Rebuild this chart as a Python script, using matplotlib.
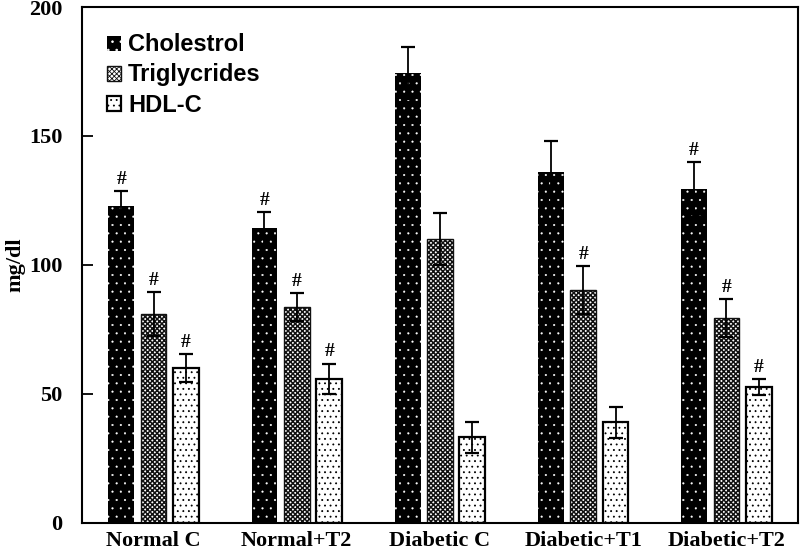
import matplotlib
matplotlib.use("Agg")
import matplotlib.pyplot as plt
import numpy as np

plt.rcParams["hatch.linewidth"] = 0.6

groups = ["Normal C", "Normal+T2", "Diabetic C", "Diabetic+T1", "Diabetic+T2"]
series = ["Cholestrol", "Triglycrides", "HDL-C"]

chol = [123, 114.3, 174.5, 136, 129.3]
chol_err = [5.7, 6.2, 10, 12, 10.7]
trig = [81, 83.7, 110, 90.3, 79.5]
trig_err = [8.5, 5.4, 10, 9.4, 7.3]
hdl = [60, 55.8, 33.2, 39.1, 52.7]
hdl_err = [5.5, 6, 6, 6, 3]

# '#' marks above each bar
chol_sig = [True, True, False, False, True]
trig_sig = [True, True, False, True, True]
hdl_sig = [True, True, False, False, True]

fig = plt.figure(figsize=(8, 5.56), dpi=100, facecolor="white")
ax = fig.add_axes([0.1025, 0.0594, 0.895, 0.928])

x = np.arange(len(groups))
w = 0.18
off = 0.226

styles = [
    dict(facecolor="black", edgecolor="white", hatch="..", linewidth=0),
    dict(facecolor="white", edgecolor="#111111", hatch="xxxxxxx", linewidth=1.0),
    dict(facecolor="white", edgecolor="black", hatch="...", linewidth=1.6),
]
hatch_lw = [0.3, 1.1, 0.6]
data = [(chol, chol_err, chol_sig), (trig, trig_err, trig_sig), (hdl, hdl_err, hdl_sig)]

handles = []
for k, ((vals, errs, sig), st) in enumerate(zip(data, styles)):
    xs = x + (k - 1) * off
    with plt.rc_context({"hatch.linewidth": hatch_lw[k]}):
        b = ax.bar(xs, vals, width=w, label=series[k], zorder=2, **st)
    handles.append(b)
    ax.errorbar(xs, vals, yerr=errs, fmt="none", ecolor="black",
                elinewidth=1.3, capsize=5, capthick=1.6, zorder=3)
    for xi, v, e, s in zip(xs, vals, errs, sig):
        if s:
            ax.text(xi, v + e + 1.2, "#", ha="center", va="bottom",
                    fontsize=14, fontweight="bold", family="Liberation Serif")

ax.set_xlim(-0.5, 4.5)
ax.set_ylim(0, 200)
ax.set_yticks([0, 50, 100, 150, 200])
ax.set_xticks(x)
ax.set_xticklabels(groups)
ax.tick_params(axis="y", direction="in", length=8, width=1.3, pad=14)
ax.tick_params(axis="x", length=0, pad=6)
for lab in ax.get_xticklabels() + ax.get_yticklabels():
    lab.set_family("Liberation Serif")
    lab.set_fontweight("bold")
    lab.set_fontsize(16)
for sp in ax.spines.values():
    sp.set_linewidth(1.5)

ax.set_ylabel("mg/dl", family="Liberation Serif", fontweight="bold",
              fontsize=16, labelpad=3)

ax.legend(handles=handles, loc="upper left", bbox_to_anchor=(0.005, 0.99),
          frameon=False, prop={"family": "Liberation Sans", "weight": "bold", "size": 17},
          handlelength=0.6, handleheight=0.6, handletextpad=0.3, labelspacing=0.3)

fig.savefig("out.png", dpi=100, facecolor="white")
